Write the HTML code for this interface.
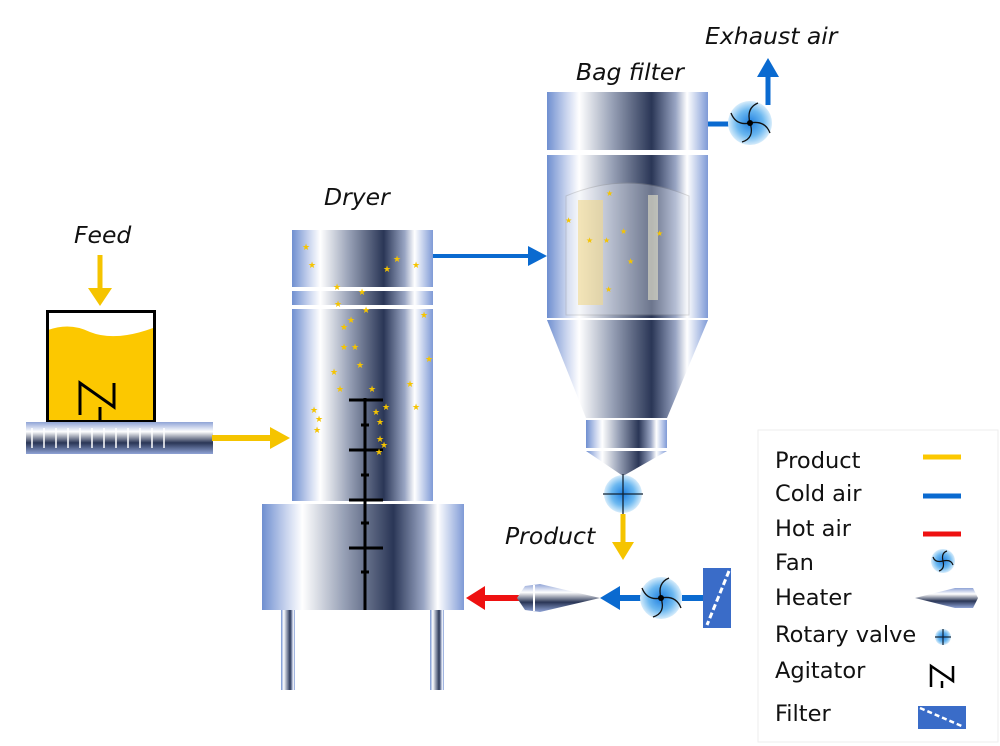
<!DOCTYPE html>
<html><head><meta charset="utf-8"><style>
html,body{margin:0;padding:0;background:#fff;width:1000px;height:746px;overflow:hidden}
svg text{font-family:"DejaVu Sans","Liberation Sans",sans-serif}
</style></head><body>
<svg width="1000" height="746" viewBox="0 0 1000 746" xmlns="http://www.w3.org/2000/svg">
<defs>
<linearGradient id="m" x1="0" x2="1" y1="0" y2="0">
<stop offset="0" stop-color="#6f8fd0"/><stop offset="0.12" stop-color="#c9d4ee"/><stop offset="0.2" stop-color="#ffffff"/>
<stop offset="0.4" stop-color="#9aa3b8"/><stop offset="0.65" stop-color="#2a3656"/><stop offset="0.8" stop-color="#9aa6c4"/>
<stop offset="0.87" stop-color="#ffffff"/><stop offset="1" stop-color="#7f9ad6"/></linearGradient>
<linearGradient id="v" x1="0" x2="0" y1="0" y2="1">
<stop offset="0" stop-color="#8fa3d6"/><stop offset="0.3" stop-color="#fff"/><stop offset="0.65" stop-color="#2a3656"/><stop offset="1" stop-color="#8fa3d6"/></linearGradient>
<radialGradient id="f"><stop offset="0" stop-color="#1f7fe0"/><stop offset="0.6" stop-color="#6cb8f0"/><stop offset="1" stop-color="#d6ecfb"/></radialGradient>
</defs>
<!-- labels -->
<g font-style="italic" font-size="23.5" fill="#111">
<text x="74" y="243">Feed</text><text x="324" y="205">Dryer</text>
<text x="576" y="80">Bag filter</text><text x="705" y="44">Exhaust air</text>
<text x="505" y="544">Product</text></g>
<!-- feed hopper -->
<path d="M48 330 Q70 322 90 332 Q115 342 153 328 L153 420 L48 420Z" fill="#fcc800"/>
<rect x="47.5" y="311.5" width="107" height="110" fill="none" stroke="#000" stroke-width="3"/>
<path d="M80 415 V383 L114 407 V383 M100 407 V422" fill="none" stroke="#000" stroke-width="3"/>
<line x1="100" y1="255" x2="100" y2="290" stroke="#f5c400" stroke-width="5"/>
<polygon points="88,288 112,288 100,306" fill="#f5c400"/>
<rect x="26" y="422" width="187" height="32" fill="url(#v)"/>
<g fill="none" stroke="#fff" stroke-width="1.5">
<path d="M32 428 v20 M44 428 v20 M56 428 v20 M68 428 v20 M80 428 v20 M92 428 v20 M104 428 v20 M116 428 v20 M128 428 v20 M140 428 v20 M152 428 v20 M164 428 v20"/></g>
<line x1="212" y1="438" x2="272" y2="438" stroke="#f5c400" stroke-width="6"/>
<polygon points="270,427 290,438 270,449" fill="#f5c400"/>
<!-- dryer -->
<rect x="292" y="230" width="141" height="57" fill="url(#m)"/>
<rect x="292" y="291" width="141" height="14" fill="url(#m)"/>
<rect x="292" y="309" width="141" height="192" fill="url(#m)"/>
<rect x="262" y="504" width="202" height="106" fill="url(#m)"/>
<rect x="281" y="610" width="14" height="80" fill="url(#m)"/>
<rect x="430" y="610" width="14" height="80" fill="url(#m)"/>
<g stroke="#000" stroke-width="3"><line x1="365" y1="398" x2="365" y2="610"/>
<line x1="349" y1="400" x2="383" y2="400"/><line x1="349" y1="450" x2="383" y2="450"/><line x1="349" y1="500" x2="383" y2="500"/><line x1="349" y1="548" x2="383" y2="548"/>
<line x1="361" y1="425" x2="369" y2="425"/><line x1="361" y1="475" x2="369" y2="475"/><line x1="361" y1="523" x2="369" y2="523"/><line x1="361" y1="572" x2="369" y2="572"/></g>
<g fill="#f5c400" font-size="9">
<text x="302" y="250">★</text><text x="308" y="268">★</text><text x="383" y="272">★</text><text x="393" y="262">★</text><text x="412" y="268">★</text>
<text x="333" y="290">★</text><text x="358" y="295">★</text><text x="334" y="307">★</text><text x="362" y="313">★</text><text x="420" y="318">★</text>
<text x="340" y="330">★</text><text x="347" y="323">★</text><text x="340" y="350">★</text><text x="351" y="350">★</text><text x="356" y="368">★</text>
<text x="330" y="375">★</text><text x="425" y="362">★</text><text x="406" y="387">★</text><text x="336" y="392">★</text><text x="368" y="392">★</text>
<text x="382" y="410">★</text><text x="372" y="415">★</text><text x="310" y="413">★</text><text x="315" y="422">★</text><text x="313" y="433">★</text>
<text x="376" y="425">★</text><text x="412" y="410">★</text><text x="376" y="442">★</text><text x="380" y="448">★</text><text x="375" y="455">★</text></g>
<!-- dryer -> bag -->
<line x1="433" y1="256" x2="530" y2="256" stroke="#0a6ad0" stroke-width="4"/>
<polygon points="528,246 547,256 528,266" fill="#0a6ad0"/>
<!-- bag filter -->
<rect x="547" y="92" width="161" height="58" fill="url(#m)"/>
<rect x="547" y="155" width="161" height="163" fill="url(#m)"/>
<path d="M566 196 Q627 170 689 196 V315 H566Z" fill="#e8ecf4" opacity="0.35" stroke="#999" stroke-width="1"/>
<rect x="578" y="200" width="25" height="105" fill="#f0d78a" opacity="0.6"/>
<rect x="648" y="195" width="10" height="105" fill="#e8e4cc" opacity="0.6"/>
<g fill="#f5c400" font-size="8"><text x="565" y="223">★</text><text x="606" y="196">★</text><text x="586" y="243">★</text><text x="603" y="243">★</text><text x="620" y="234">★</text><text x="656" y="236">★</text><text x="627" y="264">★</text><text x="605" y="292">★</text></g>
<polygon points="547,320 708,320 667,418 586,418" fill="url(#m)"/>
<rect x="586" y="420" width="81" height="28" fill="url(#m)"/>
<polygon points="586,451 667,451 623,476" fill="url(#m)"/>
<!-- rotary valve -->
<circle cx="623" cy="494" r="19" fill="url(#f)"/>
<g stroke="#123" stroke-width="1.3"><line x1="603" y1="494" x2="643" y2="494"/><line x1="623" y1="474" x2="623" y2="514"/></g>
<line x1="623" y1="514" x2="623" y2="545" stroke="#f5c400" stroke-width="5"/>
<polygon points="612,542 634,542 623,560" fill="#f5c400"/>
<!-- exhaust -->
<line x1="708" y1="124" x2="735" y2="124" stroke="#0a6ad0" stroke-width="5"/>
<circle cx="750" cy="123" r="22" fill="url(#f)"/>
<g fill="none" stroke="#111" stroke-width="1.3"><path d="M750 123 Q746 108 758 103 M750 123 Q765 120 770 133 M750 123 Q755 138 742 142 M750 123 Q736 126 731 113"/></g><circle cx="750" cy="123" r="3" fill="#000"/>
<line x1="768" y1="105" x2="768" y2="72" stroke="#0a6ad0" stroke-width="5"/>
<polygon points="757,77 768,58 779,77" fill="#0a6ad0"/>
<!-- bottom line -->
<line x1="483" y1="598" x2="520" y2="598" stroke="#ee1111" stroke-width="6"/>
<polygon points="485,586 466,598 485,610" fill="#ee1111"/>
<path d="M525 586 L540 584 L600 598 L540 612 L525 610 L517 598Z" fill="url(#v)"/>
<line x1="534" y1="585" x2="534" y2="611" stroke="#fff" stroke-width="2"/>
<line x1="618" y1="598" x2="645" y2="598" stroke="#0a6ad0" stroke-width="6"/>
<polygon points="620,586 600,598 620,610" fill="#0a6ad0"/>
<circle cx="661" cy="598" r="21" fill="url(#f)"/>
<g fill="none" stroke="#111" stroke-width="1.3"><path d="M661 598 Q657 583 669 578 M661 598 Q676 595 681 608 M661 598 Q666 613 653 617 M661 598 Q647 601 642 588"/></g><circle cx="661" cy="598" r="3" fill="#000"/>
<line x1="682" y1="598" x2="705" y2="598" stroke="#0a6ad0" stroke-width="6"/>
<rect x="703" y="568" width="28" height="60" fill="#3a6cc8"/>
<line x1="729" y1="571" x2="707" y2="625" stroke="#fff" stroke-width="3" stroke-dasharray="6 3"/>
<!-- legend -->
<rect x="758" y="430" width="240" height="312" fill="#fff" stroke="#eee"/>
<g font-size="22.5" fill="#111">
<text x="775" y="468">Product</text><text x="775" y="501">Cold air</text><text x="775" y="536">Hot air</text><text x="775" y="570">Fan</text>
<text x="775" y="605">Heater</text><text x="775" y="642">Rotary valve</text><text x="775" y="678">Agitator</text><text x="775" y="721">Filter</text></g>
<line x1="923" y1="457" x2="961" y2="457" stroke="#fcc800" stroke-width="5"/>
<line x1="923" y1="496" x2="961" y2="496" stroke="#0a6ad0" stroke-width="5"/>
<line x1="923" y1="534" x2="961" y2="534" stroke="#ee1111" stroke-width="5"/>
<circle cx="943" cy="561" r="12" fill="url(#f)"/>
<g fill="none" stroke="#111" stroke-width="1.2"><path d="M943 561 Q941 553 947 551 M943 561 Q951 559 953 565 M943 561 Q945 569 939 571 M943 561 Q935 563 933 557"/></g>
<path d="M915 598 L955 588 L973 588 L978 598 L973 608 L955 608Z" fill="url(#v)"/>
<circle cx="943" cy="637" r="8" fill="url(#f)"/>
<g stroke="#123" stroke-width="1.2"><line x1="935" y1="637" x2="951" y2="637"/><line x1="943" y1="629" x2="943" y2="645"/></g>
<path d="M931 687 V666 L953 681 V666 M942 681 V688" fill="none" stroke="#000" stroke-width="2.5"/>
<rect x="918" y="706" width="48" height="23" fill="#3a6cc8"/>
<line x1="920" y1="708" x2="964" y2="727" stroke="#fff" stroke-width="2.5" stroke-dasharray="5 3"/>
</svg>
</body></html>
